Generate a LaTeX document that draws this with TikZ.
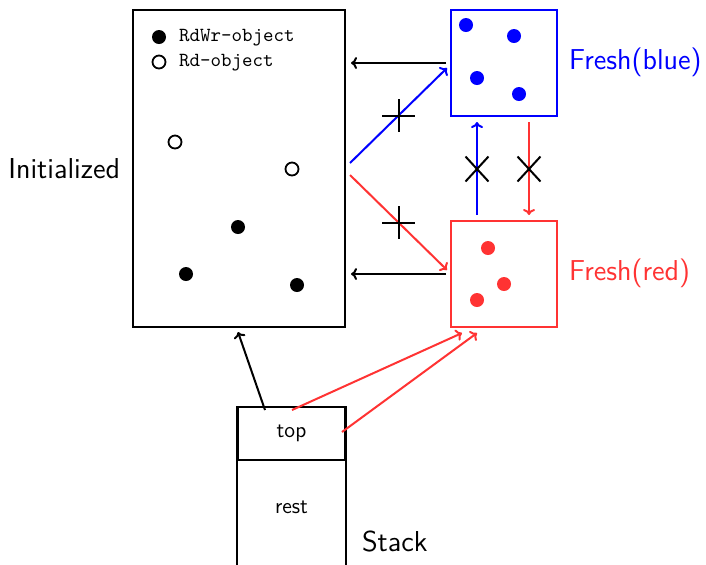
\documentclass[tikz,border=0pt]{standalone}
\usetikzlibrary{arrows.meta,calc,shapes.misc}
\definecolor{fblue}{RGB}{0,0,255}
\definecolor{fred}{RGB}{255,51,51}
\begin{document}
\begin{tikzpicture}[x=0.5pt,y=-0.5pt,line width=1pt,font=\sffamily,
  box/.style={draw,inner sep=0pt},
  rw/.style={circle,fill,inner sep=0pt,minimum size=7pt},
  ro/.style={circle,draw,line width=0.9pt,inner sep=0pt,minimum size=6.5pt},
  arr/.style={-{To[length=3pt,width=6pt]}},
  plusmark/.style={cross out,draw=black,line width=1pt,inner sep=0pt,minimum size=10.6pt,rotate=45},
  xmark/.style={cross out,draw=black,line width=1pt,inner sep=0pt,minimum width=10.5pt,minimum height=11.5pt},
  big/.style={font=\sffamily\fontsize{14.4}{17}\selectfont}]
\useasboundingbox (0,0) rectangle (706,564);

% the three object pools
\node[box,minimum width=106pt,minimum height=158.5pt] (init) at (239,168.5) {};
\node[box,draw=fblue,minimum width=53pt,minimum height=53pt] (blue) at (504,63) {};
\node[box,draw=fred,minimum width=53pt,minimum height=53pt] (red) at (504,274) {};

% legend
\node[rw] (lg1) at (159,37) {};
\node[anchor=west,font=\ttfamily\fontsize{10}{12}\selectfont,inner sep=0pt] (lgt1) at (178,38) {RdWr-object};
\node[ro] (lg2) at (159,62) {};
\node[anchor=west,font=\ttfamily\fontsize{10}{12}\selectfont,inner sep=0pt] (lgt2) at (178,63) {Rd-object};

% objects in the initialized pool
\node[ro] (o1) at (175,142) {};
\node[ro] (o2) at (292,169) {};
\node[rw] (o3) at (238,227) {};
\node[rw] (o4) at (186,274) {};
\node[rw] (o5) at (297,285) {};

% objects in the fresh pools
\node[rw,fill=fblue] (b1) at (466,25) {};
\node[rw,fill=fblue] (b2) at (514,36) {};
\node[rw,fill=fblue] (b3) at (477,78) {};
\node[rw,fill=fblue] (b4) at (519,94) {};
\node[rw,fill=fred] (r1) at (488,248) {};
\node[rw,fill=fred] (r2) at (504,284) {};
\node[rw,fill=fred] (r3) at (477,300) {};

% labels
\node[big,anchor=east,inner sep=0pt] (linit) at (121,169) {Initialized};
\node[big,anchor=west,inner sep=0pt,text=fblue] (lblue) at (568,62) {Fresh(blue)};
\node[big,anchor=west,inner sep=0pt,text=fred] (lred) at (568,273) {Fresh(red)};

% stack
\node[box,minimum width=53.5pt,minimum height=26.5pt,font=\sffamily\fontsize{11}{13}\selectfont] (topcell) at (291.5,433.5) {top};
\draw (topcell.north west) -- (topcell.north west |- 0,570);
\draw (topcell.north east) -- (topcell.north east |- 0,570);
\node[font=\sffamily\fontsize{11}{13}\selectfont] (rest) at (291.5,507) {rest};
\node[big,anchor=west,inner sep=0pt] (lstack) at (361,541) {Stack};

% connector end points
\coordinate (bs) at (350,163);
\coordinate (be) at (447,68);
\coordinate (rs) at (350,175);
\coordinate (re) at (447,270);
\coordinate (bu0) at (477,215);
\coordinate (bu1) at (477,122);
\coordinate (rd0) at (529,122);
\coordinate (rd1) at (529,215);
\coordinate (st0) at (265,410);
\coordinate (st1) at (238,332);
\coordinate (sr0) at (292,410);
\coordinate (sr1) at (462,333);
\coordinate (sr2) at (342,432);
\coordinate (sr3) at (477,333);

% pools back to the initialized pool
\draw[arr,shorten <=2pt,shorten >=2.5pt] (blue.west) -- (blue.west -| init.east);
\draw[arr,shorten <=2pt,shorten >=2.5pt] (red.west) -- (red.west -| init.east);

% initialized to fresh (disallowed)
\draw[arr,fblue] (bs) -- (be) node[plusmark,pos=0.5] (p1) {};
\draw[arr,fred] (rs) -- (re) node[plusmark,pos=0.5] (p2) {};

% between the fresh pools (disallowed)
\draw[arr,fblue] (bu0) -- (bu1);
\draw[arr,fred] (rd0) -- (rd1);
\node[xmark] (x1) at (477,169) {};
\node[xmark] (x2) at (529,169) {};

% from the stack
\draw[arr] (st0) -- (st1);
\draw[arr,fred] (sr0) -- (sr1);
\draw[arr,fred] (sr2) -- (sr3);
\end{tikzpicture}
\end{document}
